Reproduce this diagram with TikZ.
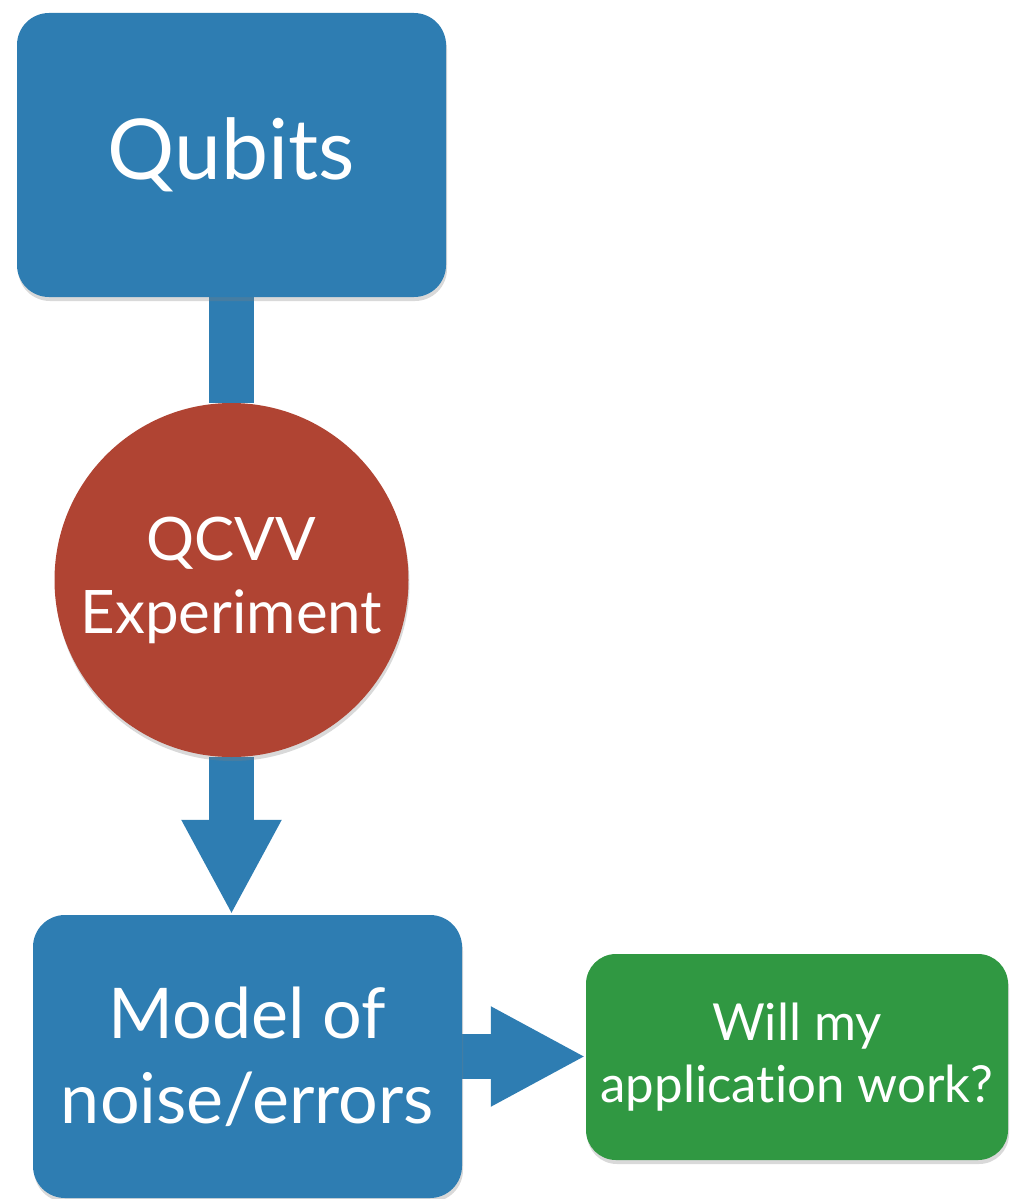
\documentclass[tikz,border=0pt]{standalone}
\usepackage{fontspec}
\setmainfont{Lato}[Ligatures={NoCommon,NoContextual}]
\usetikzlibrary{arrows.meta,shadows,backgrounds}
\definecolor{qblue}{RGB}{46,125,178}
\definecolor{qred}{RGB}{176,68,51}
\definecolor{qgreen}{RGB}{48,152,66}
\begin{document}
\begin{tikzpicture}[x=1pt,y=-1pt,
  shade/.style={drop shadow={shadow xshift=1pt,shadow yshift=-4pt,opacity=0.3}},
  box/.style={rectangle, rounded corners=32pt, fill=qblue, text=white, align=center, inner sep=0pt, shade},
  greenbox/.style={box, fill=qgreen, rounded corners=30pt},
  bubble/.style={circle, fill=qred, text=white, align=center, inner sep=0pt, minimum size=354pt, shade},
  flow/.style={qblue, line width=45pt},
  flowarrow/.style={flow, -{Triangle[length=95pt,width=93pt]}},
]
\path[use as bounding box] (0,0) rectangle (1010,1199);

\node[box, minimum width=429pt, minimum height=284pt, font=\fontsize{84}{100}\selectfont] (qubits) at (231.5,155) {Qubits};
\node[bubble, font=\fontsize{60}{73}\selectfont] (qcvv) at (231.5,580) {QCVV\\Experiment};
\node[box, minimum width=429pt, minimum height=283pt, font=\fontsize{70}{85}\selectfont] (model) at (247.5,1056.5) {Model of\\noise/errors};
\node[greenbox, minimum width=422pt, minimum height=206pt, font=\fontsize{51}{62}\selectfont] (app) at (797,1057) {Will my\\application work?};

\begin{pgfonlayer}{background}
\draw[flow] (qubits.south) -- (qcvv.north);
\draw[flowarrow] (qcvv.south) -- (qcvv.south |- model.north);
\draw[flowarrow] (model.east) -- (model.east -| app.west);
\end{pgfonlayer}
\end{tikzpicture}
\end{document}
